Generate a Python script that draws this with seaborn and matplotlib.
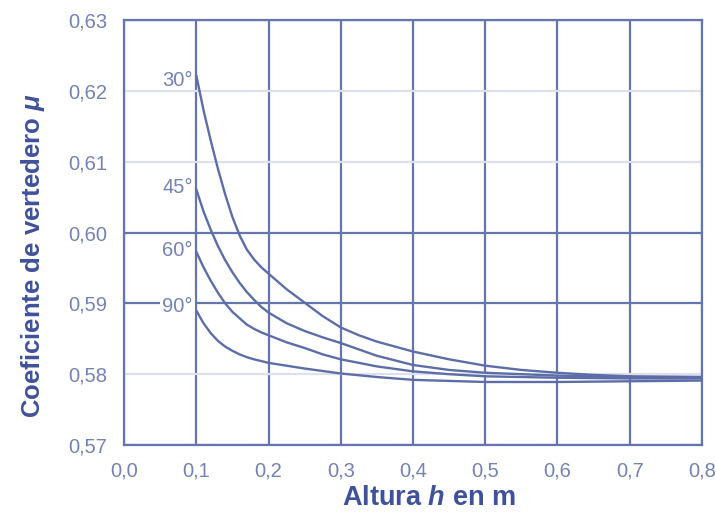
import numpy as np
import pandas as pd
import matplotlib
matplotlib.use("Agg")
import matplotlib.pyplot as plt
import seaborn as sns

# Coeficiente de vertedero (mu) frente a la altura h, por ángulo de vertedero
angulos = ["30°", "45°", "60°", "90°"]

h_30 = [0.10, 0.11, 0.12, 0.13, 0.14, 0.15, 0.16, 0.17, 0.18, 0.19, 0.20,
        0.225, 0.25, 0.275, 0.30, 0.325, 0.35, 0.40, 0.45, 0.50, 0.55,
        0.60, 0.65, 0.70, 0.80]
mu_30 = [0.6222, 0.6173, 0.6130, 0.6090, 0.6054, 0.6022, 0.5996, 0.5976,
         0.5962, 0.5951, 0.5942, 0.5920, 0.5901, 0.5882, 0.5866, 0.5855,
         0.5846, 0.5832, 0.5821, 0.5812, 0.5806, 0.5802, 0.5799, 0.5797,
         0.5796]

h_45 = [0.10, 0.11, 0.12, 0.13, 0.14, 0.15, 0.16, 0.17, 0.18, 0.19, 0.20,
        0.225, 0.25, 0.275, 0.30, 0.35, 0.40, 0.45, 0.50, 0.60, 0.70, 0.80]
mu_45 = [0.6061, 0.6030, 0.6004, 0.5981, 0.5961, 0.5944, 0.5929, 0.5916,
         0.5905, 0.5895, 0.5887, 0.5872, 0.5861, 0.5852, 0.5844, 0.5826,
         0.5813, 0.5806, 0.5802, 0.5798, 0.5796, 0.5796]

h_60 = [0.10, 0.11, 0.12, 0.13, 0.14, 0.15, 0.16, 0.17, 0.18, 0.19, 0.20,
        0.225, 0.25, 0.275, 0.30, 0.35, 0.40, 0.45, 0.50, 0.60, 0.70, 0.80]
mu_60 = [0.5973, 0.5951, 0.5932, 0.5915, 0.5900, 0.5888, 0.5879, 0.5870,
         0.5864, 0.5859, 0.5855, 0.5845, 0.5837, 0.5828, 0.5821, 0.5811,
         0.5804, 0.5800, 0.5797, 0.5795, 0.5794, 0.5794]

h_90 = [0.10, 0.11, 0.12, 0.13, 0.14, 0.15, 0.16, 0.17, 0.18, 0.20, 0.25,
        0.30, 0.35, 0.40, 0.50, 0.60, 0.70, 0.80]
mu_90 = [0.5890, 0.5872, 0.5858, 0.5847, 0.5839, 0.5833, 0.5828, 0.5824,
         0.5821, 0.5816, 0.5808, 0.5801, 0.5796, 0.5792, 0.5789, 0.5789,
         0.5790, 0.5791]

x_ticks = [0.0, 0.1, 0.2, 0.3, 0.4, 0.5, 0.6, 0.7, 0.8]
x_labels = ["0,0", "0,1", "0,2", "0,3", "0,4", "0,5", "0,6", "0,7", "0,8"]
y_ticks = [0.57, 0.58, 0.59, 0.60, 0.61, 0.62, 0.63]
y_labels = ["0,57", "0,58", "0,59", "0,60", "0,61", "0,62", "0,63"]
y_dark = [0.57, 0.59, 0.60, 0.63]

series = {"30°": (h_30, mu_30), "45°": (h_45, mu_45),
          "60°": (h_60, mu_60), "90°": (h_90, mu_90)}
df = pd.concat([pd.DataFrame({"h": hs, "mu": ms, "angulo": a})
                for a, (hs, ms) in series.items()], ignore_index=True)

LINE = "#5d6da8"
DARK = "#6575ad"
LIGHT = "#dde1ee"
TICKTXT = "#7482b6"
LABEL = "#3f519a"

sns.set_style("white")
plt.rcParams["font.family"] = ["Liberation Sans", "DejaVu Sans"]
plt.rcParams["mathtext.fontset"] = "custom"
plt.rcParams["mathtext.it"] = "Liberation Sans:bold:italic"
plt.rcParams["mathtext.rm"] = "Liberation Sans:bold"

fig = plt.figure(figsize=(7.16, 5.14), dpi=100)
ax = fig.add_axes([0.1732, 0.1342, 0.8072, 0.8268])

sns.lineplot(data=df, x="h", y="mu", hue="angulo", units="angulo",
             estimator=None, sort=False,
             palette={a: LINE for a in angulos}, linewidth=1.7,
             legend=False, ax=ax, zorder=3)

ax.set_xlim(0.0, 0.8)
ax.set_ylim(0.57, 0.63)
ax.set_xticks(x_ticks)
ax.set_xticklabels(x_labels)
ax.set_yticks(y_ticks)
ax.set_yticklabels(y_labels)

ax.tick_params(axis="both", labelsize=14.5, labelcolor=TICKTXT,
               length=8, width=1.6, color=DARK, pad=4)
ax.grid(True, linewidth=1.6)
for t in ax.xaxis.get_major_ticks():
    t.gridline.set_color(DARK)
for t, v in zip(ax.yaxis.get_major_ticks(), y_ticks):
    c = DARK if any(abs(v - d) < 1e-9 for d in y_dark) else LIGHT
    t.gridline.set_color(c)
    t.tick1line.set_color(c)
ax.set_axisbelow(True)

for s in ax.spines.values():
    s.set_visible(True)
    s.set_color(DARK)
    s.set_linewidth(1.6)

ax.set_xlabel(r"Altura $h$ en m", fontsize=19.5, fontweight="bold",
              color=LABEL)
ax.xaxis.set_label_coords(0.528, -0.095)
ax.set_ylabel(r"Coeficiente de vertedero $\mu$", fontsize=18.5,
              fontweight="bold", color=LABEL)
ax.yaxis.set_label_coords(-0.133, 0.445)

offsets = {"30°": (-2.5, -4), "45°": (-2.5, 1), "60°": (-2.5, 0.5),
           "90°": (-2.5, 3)}
for a, (hs, ms) in series.items():
    box = None
    if a == "90°":
        box = dict(boxstyle="square,pad=0.1", fc="white", ec="none")
    ax.annotate(a, (hs[0], ms[0]), xytext=offsets[a],
                textcoords="offset points", ha="right", va="center",
                fontsize=14.5, color=TICKTXT, zorder=4, bbox=box)

fig.savefig("out.png", dpi=100)
